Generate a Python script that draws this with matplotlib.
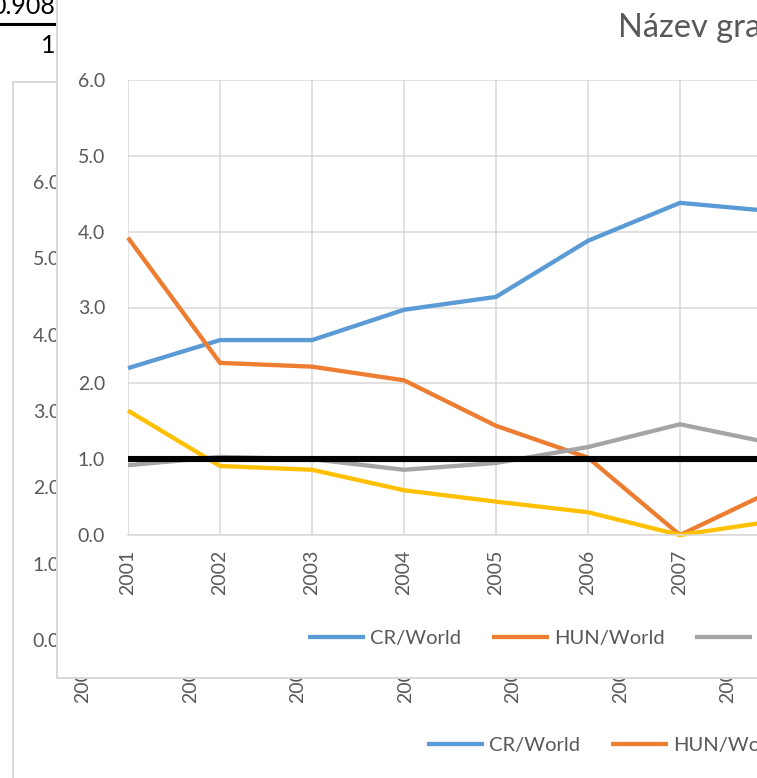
import matplotlib
matplotlib.use("Agg")
import matplotlib.pyplot as plt
from matplotlib.lines import Line2D
from matplotlib.ticker import FormatStrFormatter, FixedLocator

plt.rcParams['font.family'] = ['Lato', 'DejaVu Sans']

# ---- data ----
years = ["2001", "2002", "2003", "2004", "2005", "2006", "2007", "2008"]
cr_world = [2.20, 2.57, 2.57, 2.97, 3.14, 3.88, 4.38, 4.27]
hun_world = [3.92, 2.27, 2.22, 2.04, 1.44, 1.02, 0.00, 0.58]
pl_world = [0.92, 1.03, 1.00, 0.86, 0.95, 1.16, 1.46, 1.21]
sk_world = [1.64, 0.91, 0.86, 0.59, 0.44, 0.30, 0.00, 0.18]
world = [1.0, 1.0, 1.0, 1.0, 1.0, 1.0, 1.0, 1.0]
series_names = ["CR/World", "HUN/World", "PL/World", "SK/World", "World"]
y_ticks = [0, 1, 2, 3, 4, 5, 6]
cell_top = "0.908"
cell_bottom = "1"
title = "Název grafu"

colors = ["#5B9BD5", "#ED7D31", "#A5A5A5", "#FFC000", "#000000"]
widths = [3.1, 3.1, 3.1, 3.1, 4.4]
series = [cr_world, hun_world, pl_world, sk_world, world]

W, H = 757, 778
fig = plt.figure(figsize=(W / 100, H / 100), dpi=100)
fig.patch.set_facecolor("white")

def rect(l, t, r, b):
    return [l / W, 1 - b / H, (r - l) / W, (b - t) / H]

def fy(y):
    return 1 - y / H

GRID = "#D9D9D9"
TXT = "#595959"

def style_plot_axes(ax, ypad, xpad):
    x = list(range(len(years)))
    for vals, c, lw, name in zip(series, colors, widths, series_names):
        ax.plot(x, vals, color=c, lw=lw, label=name, solid_capstyle="butt",
                solid_joinstyle="miter", clip_on=False)
    ax.set_xlim(0, len(years) - 1)
    ax.set_ylim(0, 6)
    ax.yaxis.set_major_locator(FixedLocator(y_ticks))
    ax.yaxis.set_major_formatter(FormatStrFormatter("%.1f"))
    ax.set_xticks(x)
    ax.set_xticklabels(years, rotation=90)
    ax.tick_params(axis="both", length=0, labelsize=14, labelcolor=TXT)
    ax.tick_params(axis="y", pad=ypad)
    ax.tick_params(axis="x", pad=xpad)
    for s in ["top", "right", "left"]:
        ax.spines[s].set_visible(False)
    ax.spines["bottom"].set_color(GRID)
    ax.spines["bottom"].set_linewidth(1.1)
    ax.grid(True, color=GRID, lw=1.1)
    ax.set_axisbelow(True)
    ax.set_facecolor("none")

def add_legend(ax, x_px, y_px):
    ax.legend(loc="center left", bbox_to_anchor=(x_px / W, fy(y_px)),
              bbox_transform=fig.transFigure, ncol=5, frameon=False,
              borderpad=0, borderaxespad=0, handlelength=2.85,
              handletextpad=0.25, columnspacing=1.5, fontsize=14.5,
              labelcolor=TXT)

# ---- spreadsheet cells (behind charts) ----
fig.text(55 / W, fy(14), cell_top, ha="right", va="baseline", fontsize=18,
         color="#000000", zorder=0.2)
fig.text(55 / W, fy(53), cell_bottom, ha="right", va="baseline", fontsize=18,
         color="#000000", zorder=0.2)
fig.add_artist(Line2D([0, 57 / W], [fy(23.5), fy(23.5)], transform=fig.transFigure,
                      color="black", lw=2.2, zorder=0.2))

# ---- back chart ----
back_area = fig.add_axes(rect(13, 82, 1000, 1000), zorder=0)
back_area.set_xticks([]); back_area.set_yticks([])
back_area.set_facecolor("white")
for s in ["right", "bottom"]:
    back_area.spines[s].set_visible(False)
for s in ["left", "top"]:
    back_area.spines[s].set_color(GRID)
    back_area.spines[s].set_linewidth(1.4)

back_ax = fig.add_axes(rect(83, 182, 83 + 7 * 107.5, 640), zorder=0.5)
style_plot_axes(back_ax, ypad=16.5, xpad=13)
add_legend(back_ax, 427, 745)

# ---- front chart ----
front_area = fig.add_axes(rect(57, -60, 1000, 678), zorder=1)
front_area.set_xticks([]); front_area.set_yticks([])
front_area.set_facecolor("white")
for s in ["right", "top"]:
    front_area.spines[s].set_visible(False)
for s in ["left", "bottom"]:
    front_area.spines[s].set_color(GRID)
    front_area.spines[s].set_linewidth(1.4)

front_ax = fig.add_axes(rect(128, 80, 128 + 7 * 92, 535), zorder=2)
style_plot_axes(front_ax, ypad=16.5, xpad=10.8)
add_legend(front_ax, 308, 638)

fig.text(618 / W, fy(37), title, ha="left", va="baseline", fontsize=23.5,
         color=TXT, zorder=3)

fig.savefig("out.png", dpi=100, facecolor="white")
